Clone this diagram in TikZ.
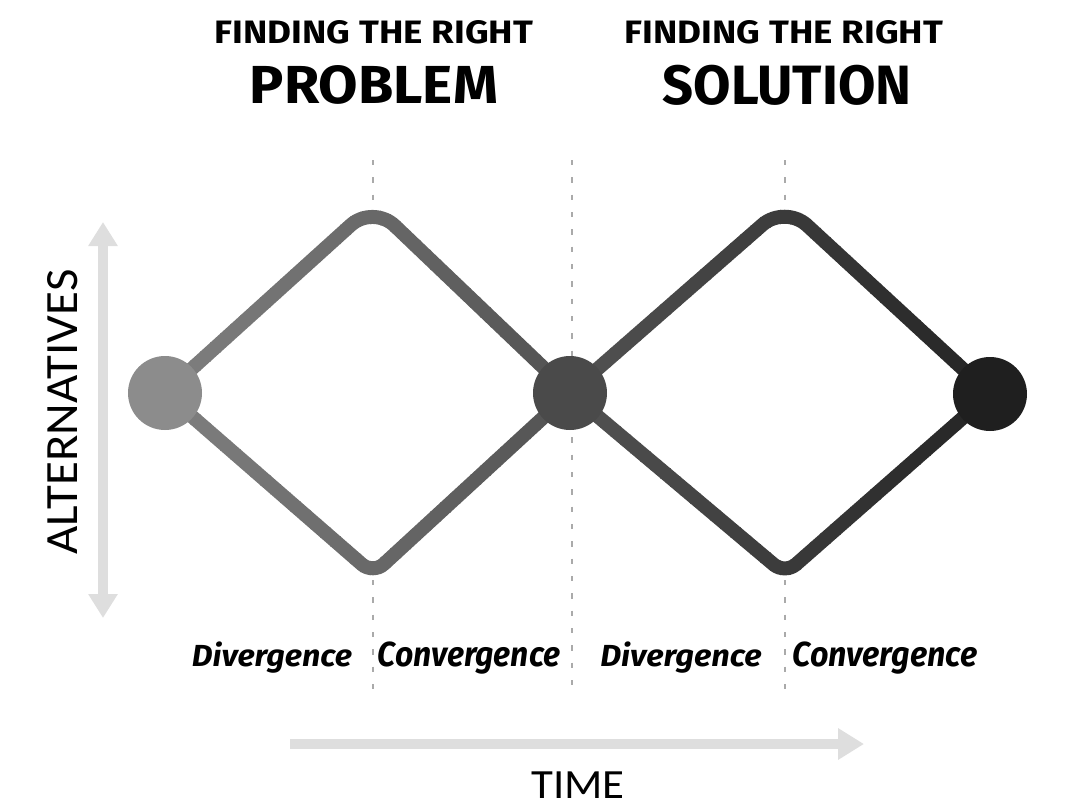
\documentclass[tikz,border=0pt]{standalone}
\usepackage{fontspec}
\usepackage{graphicx}
\setmainfont{Fira Sans}
\newfontfamily\labelfont{Carlito}
\usetikzlibrary{arrows.meta}
\definecolor{axisgray}{RGB}{222,222,222}
\definecolor{dashgray}{RGB}{170,170,170}
\definecolor{dotA}{RGB}{140,140,140}
\definecolor{dotB}{RGB}{74,74,74}
\definecolor{dotC}{RGB}{31,31,31}
\tikzset{
  guide/.style={dashgray, line width=1pt, dash pattern=on 4pt off 9pt},
  wave/.style={line width=10.5pt},
  axisarrow/.style={axisgray, line width=7.5pt},
  dotnode/.style={circle, inner sep=0pt, minimum size=55.5pt},
  heading/.style={inner sep=0pt, anchor=base},
  phase/.style={inner sep=0pt, anchor=base},
}
\begin{document}
\begin{tikzpicture}[x=0.75pt,y=-0.75pt]
\useasboundingbox (0,0) rectangle (1072,807);
% key points
\coordinate (d1) at (165,393);
\coordinate (t1) at (373,205);
\coordinate (b1) at (373,574);
\coordinate (d2) at (570,393);
\coordinate (t2) at (785,205);
\coordinate (b2) at (785,574);
\coordinate (d3) at (990,394);
% guide lines
\coordinate (g1top) at (373,160); \coordinate (g1a) at (373,212);
\coordinate (g1b) at (373,580);  \coordinate (g1bot) at (373,692);
\coordinate (g2top) at (572,160); \coordinate (g2bot) at (572,692);
\coordinate (g3top) at (785,160); \coordinate (g3a) at (785,212);
\coordinate (g3b) at (785,580);  \coordinate (g3bot) at (785,692);
\draw[guide] (g1top) -- (g1a);
\draw[guide] (g1b) -- (g1bot);
\draw[guide] (g2top) -- (g2bot);
\draw[guide] (g3top) -- (g3a);
\draw[guide] (g3b) -- (g3bot);
% axes
\coordinate (vtop) at (103,222); \coordinate (vbot) at (103,618);
\draw[axisarrow, {Triangle[width=21pt,length=18pt]}-{Triangle[width=21pt,length=18pt]}] (vtop) -- (vbot);
\coordinate (hl) at (290,744); \coordinate (hr) at (864,744);
\draw[axisarrow, -{Triangle[width=22.5pt,length=19.5pt]}] (hl) -- (hr);
% diamonds with horizontal gradient
\foreach \i in {0,...,89}{
  \pgfmathsetmacro{\xa}{130+10*\i}
  \pgfmathsetmacro{\g}{max(0.14,min(0.5,0.5-0.36*(\xa+5-165)/825))}
  \definecolor{stripcol}{gray}{\g}
  \begin{scope}
    \clip (\xa,150) rectangle (\xa+11,640);
    \draw[wave,stripcol,rounded corners=22.5pt] (d1) -- (t1) -- (d2);
    \draw[wave,stripcol,rounded corners=11pt] (d1) -- (b1) -- (d2);
    \draw[wave,stripcol,rounded corners=22.5pt] (d2) -- (t2) -- (d3);
    \draw[wave,stripcol,rounded corners=11pt] (d2) -- (b2) -- (d3);
  \end{scope}
}
% dots
\node[dotnode, fill=dotA] (dot1) at (d1) {};
\node[dotnode, fill=dotB] (dot2) at (d2) {};
\node[dotnode, fill=dotC] (dot3) at (d3) {};
% headings
\node[heading] (find1) at (374,43) {\resizebox{238.5pt}{17.25pt}{\bfseries FINDING THE RIGHT}};
\node[heading] (prob) at (374,103) {\resizebox{186pt}{28.5pt}{\bfseries PROBLEM}};
\node[heading] (find2) at (784,43) {\resizebox{238.5pt}{17.25pt}{\bfseries FINDING THE RIGHT}};
\node[heading] (sol) at (787,104) {\resizebox{186.75pt}{29.5pt}{\bfseries SOLUTION}};
% phases
\node[phase] (div1) at (272,666) {\resizebox{120pt}{18.5pt}{\bfseries\itshape Divergence}};
\node[phase] (con1) at (469,666) {\resizebox{137pt}{18.5pt}{\bfseries\itshape Convergence}};
\node[phase] (div2) at (681,666) {\resizebox{121pt}{18.5pt}{\bfseries\itshape Divergence}};
\node[phase] (con2) at (885,666) {\resizebox{138.5pt}{18.5pt}{\bfseries\itshape Convergence}};
% axis labels
\node[heading, rotate=90] (alt) at (77,412) {\resizebox{213.75pt}{22.5pt}{\labelfont ALTERNATIVES}};
\node[heading] (time) at (578,798) {\resizebox{70pt}{20pt}{\labelfont TIME}};
\end{tikzpicture}
\end{document}
